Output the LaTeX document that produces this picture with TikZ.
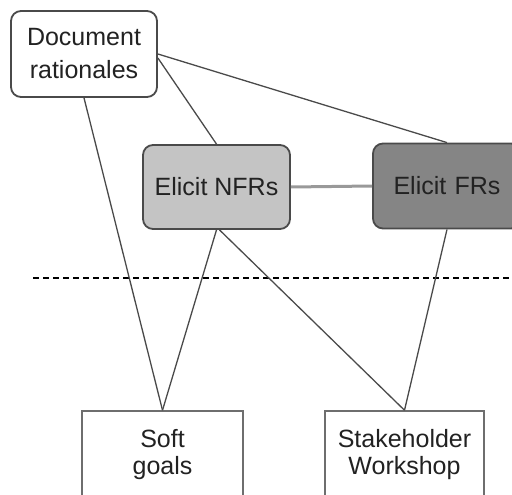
\documentclass[tikz,border=0pt]{standalone}
\usepackage{fontspec}
\setmainfont{Liberation Sans}
\definecolor{edge}{HTML}{4A4A4A}
\definecolor{nfrfill}{HTML}{C4C4C4}
\definecolor{frfill}{HTML}{858585}
\definecolor{txt}{HTML}{222222}
\begin{document}
\begin{tikzpicture}[x=1pt,y=-1pt,
  every node/.style={font=\fontsize{25}{27}\selectfont, text=txt, inner sep=0pt, align=center},
  rbox/.style={draw=edge, line width=1.8pt, rounded corners=10pt},
  sbox/.style={draw=edge!80, line width=1.5pt},
  conn/.style={draw=edge, line width=1.3pt},
  thick conn/.style={draw=gray!80, line width=3pt}]
\useasboundingbox (0,0) rectangle (512,495);
\node[rbox, fill=white, minimum width=146pt, minimum height=86pt, font=\fontsize{25}{33}\selectfont] (doc) at (84,54) {Document\\rationales};
\node[rbox, fill=nfrfill, minimum width=147pt, minimum height=84pt] (nfr) at (216.5,187) {Elicit NFRs};
\node[rbox, fill=frfill, minimum width=148pt, minimum height=85pt, text width=148pt] (fr) at (447,186) {Elicit FRs};
\node[sbox, fill=white, minimum width=161pt, minimum height=88pt] (soft) at (162.5,455) {Soft\\goals};
\node[sbox, fill=white, minimum width=159pt, minimum height=88pt] (stake) at (404.5,455) {Stakeholder\\Workshop};
\coordinate (dl) at (33,278);
\coordinate (dr) at (512,278);
\draw[line width=1.5pt, dash pattern=on 6pt off 4pt] (dl) -- (dr);
\draw[conn] (doc.east) -- (fr.north);
\draw[conn] ([yshift=-4pt]doc.east) -- (nfr.north);
\draw[conn] (doc.south) -- (soft.north);
\draw[thick conn] (nfr.east) -- (fr.west);
\draw[conn] (nfr.south) -- (soft.north);
\draw[conn] ([xshift=3pt]nfr.south) -- (stake.north);
\draw[conn] (fr.south) -- (stake.north);
\end{tikzpicture}
\end{document}
